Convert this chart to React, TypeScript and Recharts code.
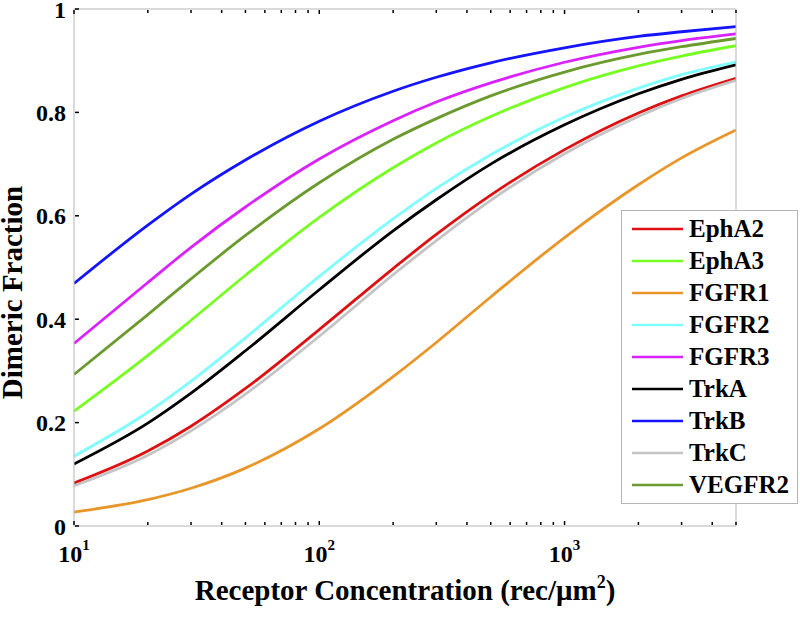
import React from 'react';
import { LineChart, Line, XAxis, YAxis, Legend } from 'recharts';

// receptor concentration (rec/um^2), log axis
const concentrations = [10, 20, 30, 50, 100, 200, 300, 500, 1000, 2000, 3000, 5000];

// dimeric fraction
const ephA2 = [0.083, 0.145, 0.193, 0.266, 0.380, 0.498, 0.564, 0.640, 0.728, 0.799, 0.832, 0.866];
const ephA3 = [0.222, 0.330, 0.398, 0.485, 0.597, 0.693, 0.741, 0.792, 0.848, 0.890, 0.909, 0.929];
const fgfr1 = [0.027, 0.051, 0.073, 0.112, 0.188, 0.289, 0.355, 0.443, 0.558, 0.660, 0.712, 0.766];
const fgfr2 = [0.135, 0.220, 0.280, 0.364, 0.483, 0.594, 0.653, 0.718, 0.791, 0.847, 0.873, 0.898];
const fgfr3 = [0.353, 0.471, 0.539, 0.617, 0.710, 0.784, 0.820, 0.857, 0.897, 0.926, 0.939, 0.952];
const trkA = [0.120, 0.199, 0.257, 0.339, 0.457, 0.571, 0.631, 0.700, 0.776, 0.836, 0.864, 0.892];
const trkB = [0.469, 0.582, 0.642, 0.708, 0.783, 0.841, 0.868, 0.896, 0.925, 0.947, 0.956, 0.966];
const trkC = [0.078, 0.137, 0.184, 0.255, 0.367, 0.486, 0.552, 0.630, 0.720, 0.792, 0.827, 0.862];
const vegfr2 = [0.293, 0.409, 0.478, 0.562, 0.664, 0.748, 0.788, 0.832, 0.878, 0.912, 0.927, 0.943];

const seriesNames = ['EphA2', 'EphA3', 'FGFR1', 'FGFR2', 'FGFR3', 'TrkA', 'TrkB', 'TrkC', 'VEGFR2'];
const seriesValues = [ephA2, ephA3, fgfr1, fgfr2, fgfr3, trkA, trkB, trkC, vegfr2];
const seriesColors = ['#dd1111', '#77ff22', '#e8962a', '#80ffff', '#d922ff', '#000000', '#1414ff', '#c4c4c4', '#6b9a2e'];

// log ticks: majors get a label, minors are just marks
const xTicks = [10, 20, 30, 40, 50, 60, 70, 80, 90, 100, 200, 300, 400, 500, 600, 700, 800, 900, 1000, 2000, 3000, 4000, 5000];
const xMajor = [10, 100, 1000];
const yTicks = [0, 0.2, 0.4, 0.6, 0.8, 1];

const FONT = '"Liberation Serif", "Times New Roman", serif';
const AXIS_GRAY = '#b5b5b5';

const data = concentrations.map((c, i) => {
    const row: { [key: string]: number } = { c };
    seriesNames.forEach((name, s) => {
        row[name] = seriesValues[s][i];
    });
    return row;
});

const BottomTick = (props: any) => {
    const { x, y, payload } = props;
    const v = payload.value;
    const major = xMajor.includes(v);
    return (
        <g>
            <line x1={x} x2={x} y1={y - 1} y2={y - (major ? 5 : 4)} stroke="#000" strokeWidth={1.5} />
            {major && (
                <text x={x} y={y + 36} textAnchor="middle" fontFamily={FONT} fontWeight="bold" fontSize={24} fill="#000">
                    <tspan>10</tspan>
                    <tspan dy={-12} fontSize={15}>{Math.round(Math.log10(v))}</tspan>
                </text>
            )}
        </g>
    );
};

const TopTick = (props: any) => {
    const { x, y, payload } = props;
    const major = xMajor.includes(payload.value);
    return <line x1={x} x2={x} y1={y + 1} y2={y + (major ? 5 : 4)} stroke="#000" strokeWidth={1.5} />;
};

const LeftTick = (props: any) => {
    const { x, y, payload } = props;
    return (
        <g>
            <line x1={x + 1} x2={x + 5} y1={y} y2={y} stroke="#000" strokeWidth={1.5} />
            <text x={x - 8} y={y} dy="0.36em" textAnchor="end" fontFamily={FONT} fontWeight="bold" fontSize={24} fill="#000">
                {String(payload.value)}
            </text>
        </g>
    );
};

const RightTick = (props: any) => {
    const { x, y } = props;
    return <line x1={x - 1} x2={x - 5} y1={y} y2={y} stroke="#000" strokeWidth={1.5} />;
};

const XTitle = (props: any) => {
    const { x, y, width } = props.viewBox;
    return (
        <text x={x + width / 2} y={y + 74} textAnchor="middle" fontFamily={FONT} fontWeight="bold" fontSize={29} fill="#000">
            <tspan>Receptor Concentration (rec/μm</tspan>
            <tspan dy={-12} fontSize={18}>2</tspan>
            <tspan dy={12}>)</tspan>
        </text>
    );
};

const YTitle = (props: any) => {
    const { x, y, height } = props.viewBox;
    const cx = x + 1 - 52;
    const cy = y + height / 2 + 25;
    return (
        <text x={cx} y={cy} transform={`rotate(-90, ${cx}, ${cy})`} textAnchor="middle" fontFamily={FONT} fontWeight="bold" fontSize={29} fill="#000">
            Dimeric Fraction
        </text>
    );
};

const BoxLegend = () => (
    <div style={{ width: 177, height: 294, boxSizing: 'border-box', border: `1px solid ${AXIS_GRAY}`, background: '#fff', paddingTop: 2 }}>
        {seriesNames.map((name, i) => (
            <div key={name} style={{ height: 32, display: 'flex', alignItems: 'center' }}>
                <svg width={51} height={4} style={{ marginLeft: 10, marginRight: 6 }}>
                    <line x1={0} x2={51} y1={2} y2={2} stroke={seriesColors[i]} strokeWidth={2.5} />
                </svg>
                <span style={{ fontFamily: FONT, fontWeight: 'bold', fontSize: 25, color: '#000', lineHeight: '32px' }}>{name}</span>
            </div>
        ))}
    </div>
);

export default function App() {
    return (
        <div style={{ position: 'absolute', left: 0, top: 0, width: 800, height: 619, background: '#fff' }}>
            <LineChart width={800} height={619} data={data} margin={{ top: 8, right: 63, bottom: 92, left: 73 }}>
                <XAxis
                    dataKey="c"
                    type="number"
                    scale="log"
                    domain={[10, 5000]}
                    allowDataOverflow
                    ticks={xTicks}
                    interval={0}
                    height={1}
                    tickSize={0}
                    tickMargin={0}
                    tickLine={false}
                    axisLine={{ stroke: AXIS_GRAY }}
                    tick={<BottomTick />}
                    label={<XTitle />}
                />
                <XAxis
                    xAxisId="top"
                    orientation="top"
                    dataKey="c"
                    type="number"
                    scale="log"
                    domain={[10, 5000]}
                    allowDataOverflow
                    ticks={xTicks}
                    interval={0}
                    height={1}
                    tickSize={0}
                    tickMargin={0}
                    tickLine={false}
                    axisLine={{ stroke: AXIS_GRAY }}
                    tick={<TopTick />}
                />
                <YAxis
                    type="number"
                    domain={[0, 1]}
                    ticks={yTicks}
                    interval={0}
                    width={1}
                    tickSize={0}
                    tickMargin={0}
                    tickLine={false}
                    axisLine={{ stroke: AXIS_GRAY }}
                    tick={<LeftTick />}
                    label={<YTitle />}
                />
                <YAxis
                    yAxisId="right"
                    orientation="right"
                    type="number"
                    domain={[0, 1]}
                    ticks={yTicks}
                    interval={0}
                    width={1}
                    tickSize={0}
                    tickMargin={0}
                    tickLine={false}
                    axisLine={{ stroke: AXIS_GRAY }}
                    tick={<RightTick />}
                />
                {seriesNames.map((name, i) => (
                    <Line
                        key={name}
                        type="monotone"
                        dataKey={name}
                        stroke={seriesColors[i]}
                        strokeWidth={2.8}
                        dot={false}
                        isAnimationActive={false}
                    />
                ))}
                <Legend
                    layout="vertical"
                    align="center"
                    verticalAlign="middle"
                    wrapperStyle={{ left: 621, top: 210, width: 177, height: 294 }}
                    content={() => <BoxLegend />}
                />
            </LineChart>
        </div>
    );
}
